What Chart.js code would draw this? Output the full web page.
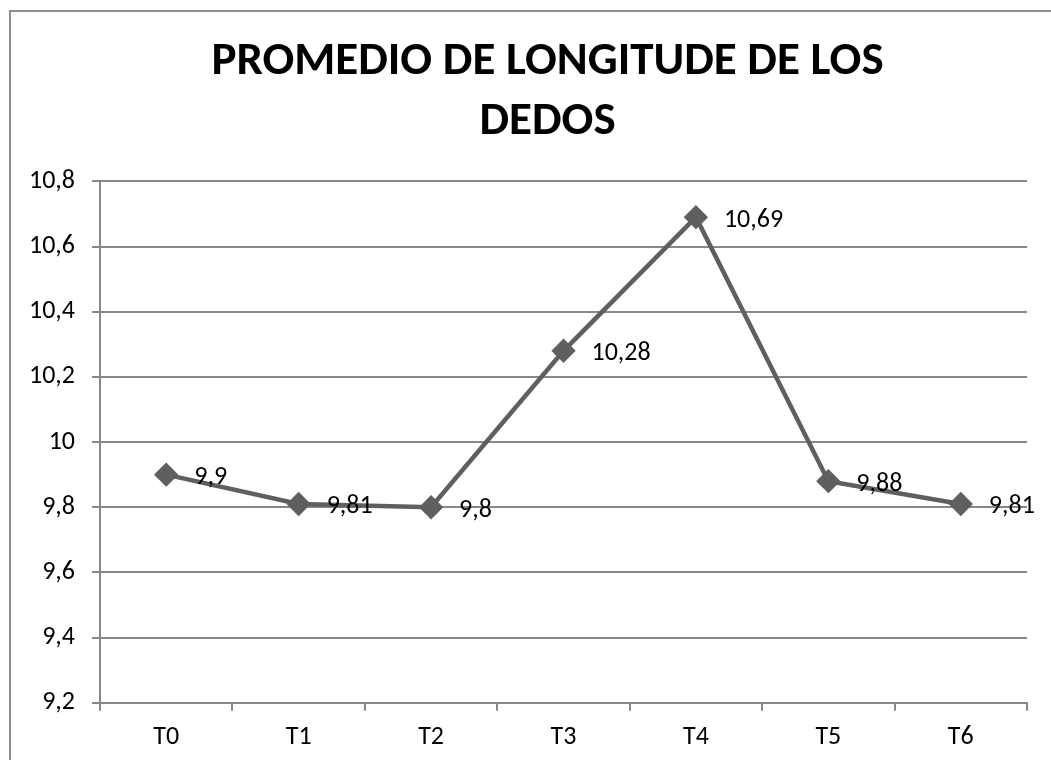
<!DOCTYPE html>
<html>
<head>
<meta charset="utf-8">
<script src="https://cdn.jsdelivr.net/npm/chart.js@4"></script>
<style>
  html, body { margin: 0; padding: 0; background: #fff; overflow: hidden; }
  #marco {
    position: absolute; left: 9px; top: 10px; width: 1200px; height: 900px;
    border-left: 2px solid #8e8e8e; border-top: 2px solid #8e8e8e;
  }
  #caja { position: absolute; left: 0; top: 0; width: 1051px; height: 760px; }
</style>
</head>
<body>
<div id="marco"></div>
<div id="caja"><canvas id="grafico"></canvas></div>
<script>
// Promedio de longitud de los dedos por tiempo
const tiempos = ["T0", "T1", "T2", "T3", "T4", "T5", "T6"];
const promedios = [9.9, 9.81, 9.8, 10.28, 10.69, 9.88, 9.81];
const tituloLineas = ["PROMEDIO DE LONGITUDE DE LOS", "DEDOS"];

const fuente = "Carlito, Calibri, Lato, sans-serif";
const gris = "#5f5f5f";
const rejilla = "#888888";

// número con coma decimal
function coma(v) {
  return String(Number(v.toFixed(2))).replace(".", ",");
}

// etiquetas de datos a la derecha de cada punto
const etiquetas = {
  id: "etiquetas",
  afterLayout(chart) {
    // el título va centrado en todo el marco, algo más a la derecha
    const t = chart.titleBlock;
    t.left += 28;
    t.right += 28;
  },
  afterDatasetsDraw(chart) {
    const ctx = chart.ctx;
    const meta = chart.getDatasetMeta(0);
    ctx.save();
    ctx.font = "26px " + fuente;
    ctx.fillStyle = "#000";
    ctx.textAlign = "left";
    ctx.textBaseline = "middle";
    meta.data.forEach((p, i) => {
      ctx.fillText(coma(promedios[i]), p.x + 28, p.y + 3);
    });
    ctx.restore();
  },
};

let ctx1 = document.getElementById("grafico").getContext("2d");
let graf = new Chart(ctx1, {
  type: "line",
  data: {
    labels: tiempos,
    datasets: [
      {
        label: "Promedio",
        data: promedios,
        borderWidth: 4.5,
        borderColor: gris,
        backgroundColor: gris,
        pointStyle: "rectRot",
        pointRadius: 9,
        pointHoverRadius: 9,
        tension: 0,
      },
    ],
  },
  options: {
    responsive: true,
    maintainAspectRatio: false,
    animation: false,
    layout: {
      padding: { left: 12, right: 24, top: 20, bottom: -4 },
    },
    plugins: {
      legend: { display: false },
      tooltip: { enabled: false },
      title: {
        display: true,
        text: tituloLineas,
        color: "#000",
        font: { family: fuente, weight: "bold", size: 47, lineHeight: 1.28 },
        padding: { top: 12, bottom: 29 },
      },
    },
    scales: {
      x: {
        offset: true,
        grid: {
          offset: true,
          drawOnChartArea: false,
          drawTicks: true,
          tickLength: 8,
          color: rejilla,
          lineWidth: 2,
        },
        border: { color: rejilla, width: 2 },
        ticks: {
          color: "#000",
          padding: 11,
          font: { family: fuente, size: 26 },
        },
      },
      y: {
        min: 9.2,
        max: 10.8,
        grid: {
          tickLength: 8,
          color: rejilla,
          lineWidth: 2,
        },
        border: { color: rejilla, width: 2 },
        ticks: {
          stepSize: 0.2,
          color: "#000",
          padding: 17,
          font: { family: fuente, size: 26 },
          callback: (v) => coma(v),
        },
      },
    },
  },
  plugins: [etiquetas],
});
</script>
</body>
</html>
